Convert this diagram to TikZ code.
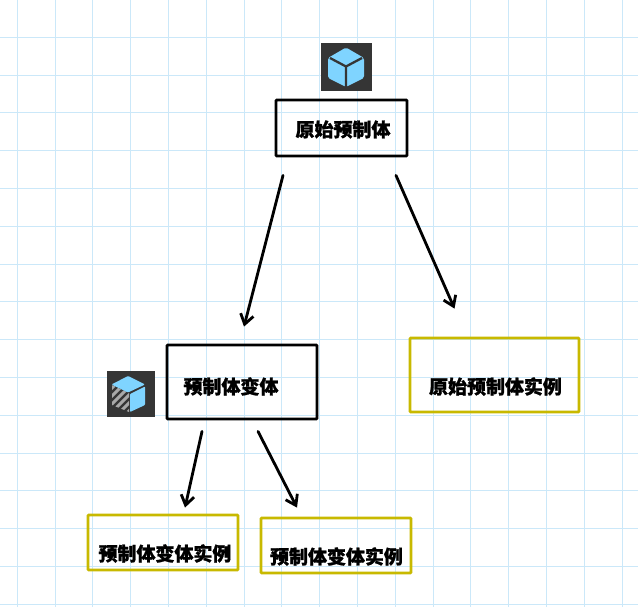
\documentclass[tikz,border=0pt]{standalone}
\usepackage{fontspec}
\usetikzlibrary{arrows.meta}
\newfontfamily\cjk[BoldFeatures={FakeBold=1.2}]{Noto Sans CJK SC}
\definecolor{gridline}{HTML}{CBE8F9}
\definecolor{icondark}{HTML}{353535}
\definecolor{cubeblue}{HTML}{7FD4FF}
\definecolor{stripe}{HTML}{A8A8A8}
\definecolor{instline}{HTML}{C8B900}
\tikzset{
  prefabbox/.style={draw=black,line width=1.6pt,fill=none,rounded corners=0.5pt,inner sep=0pt},
  instbox/.style={draw=instline,line width=1.6pt,fill=none,rounded corners=0.5pt,inner sep=0pt},
  boxtext/.style={font=\cjk\bfseries\fontsize{10.8}{12}\selectfont,text=black,inner sep=0pt},
  linkarrow/.style={-{Straight Barb[length=5.5pt,width=7.5pt,line width=1.6pt]},line width=1.6pt,line cap=round,black},
  icontile/.style={draw=none,fill=icondark,inner sep=0pt}
}
\begin{document}
\begin{tikzpicture}[x=0.02cm,y=-0.02cm]
\useasboundingbox (0,0) rectangle (638,607);
\fill[white] (0,0) rectangle (638,607);
% the paper grid
\foreach \k in {0,...,16} {\draw[gridline,line width=0.6pt] (17.3+37.8*\k,0) -- (17.3+37.8*\k,607);}
\foreach \k in {0,...,15} {\draw[gridline,line width=0.6pt] (0,37.3+37.8*\k) -- (638,37.3+37.8*\k);}
% the boxes
\node[prefabbox,minimum width=2.62cm,minimum height=1.12cm] (orig) at (341.5,128) {};
\node[prefabbox,minimum width=3.0cm,minimum height=1.48cm] (vari) at (242,382) {};
\node[instbox,minimum width=3.38cm,minimum height=1.48cm] (originst) at (494.5,375) {};
\node[instbox,minimum width=3.0cm,minimum height=1.1cm] (variinsta) at (163,542.5) {};
\node[instbox,minimum width=3.0cm,minimum height=1.1cm] (variinstb) at (336,545.5) {};
% their texts sit off centre
\node[boxtext] (origtext) at (343,129.5) {原始预制体};
\node[boxtext] (varitext) at (231,386.5) {预制体变体};
\node[boxtext] (originsttext) at (495.5,386.5) {原始预制体实例};
\node[boxtext] (variinstatext) at (165,553.5) {预制体变体实例};
\node[boxtext] (variinstbtext) at (336.5,556.5) {预制体变体实例};
% the links
\draw[linkarrow] ([shift={(-58.5,18)}]orig.south) -- ([shift={(2,-17)}]vari.north);
\draw[linkarrow] ([shift={(54.5,18)}]orig.south) -- ([shift={(-40,-28)}]originst.north);
\draw[linkarrow] ([shift={(-40,11)}]vari.south) -- ([shift={(22,-6)}]variinsta.north);
\draw[linkarrow] ([shift={(16,11)}]vari.south) -- ([shift={(-39,-9)}]variinstb.north);
% the plain cube
\node[icontile,minimum width=1.02cm,minimum height=0.96cm] (cubeicon) at (346.5,67) {};
\fill[cubeblue,rounded corners=1pt] (346,47.5) -- (364,58) -- (364,78) -- (346,87) -- (328,78) -- (328,58) -- cycle;
\draw[icondark,line width=1.3pt] (330,58) -- (346,66.5) -- (362,58) (346,66.5) -- (346,87);
% the striped cube
\node[icontile,minimum width=0.96cm,minimum height=0.92cm] (varicon) at (131,394) {};
\begin{scope}
  \clip (112,385) -- (129,393) -- (129,412) -- (112,405) -- cycle;
  \foreach \k in {0,...,5} {\draw[stripe,line width=1.7pt] (108,392+8*\k) -- (132,368+8*\k);}
\end{scope}
\fill[cubeblue,rounded corners=0.5pt] (128,376) -- (145,384.5) -- (128,392.5) -- (111.5,384.5) -- cycle;
\fill[cubeblue,rounded corners=0.5pt] (130,394) -- (145,386.5) -- (145,405) -- (130,412) -- cycle;
\end{tikzpicture}
\end{document}
